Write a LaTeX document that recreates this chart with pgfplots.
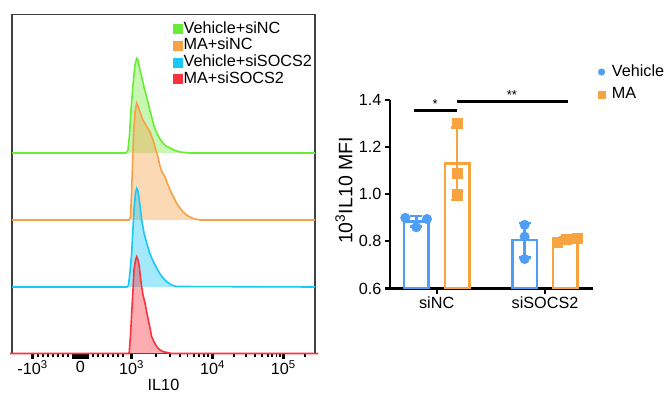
\documentclass[border=0pt]{standalone}
\usepackage{pgfplots}
\pgfplotsset{compat=1.18}
\usepackage{fontspec}
\setmainfont{Liberation Sans}
\definecolor{hgreen}{RGB}{105,236,55}
\definecolor{horange}{RGB}{247,160,70}
\definecolor{hcyan}{RGB}{25,200,245}
\definecolor{hred}{RGB}{250,50,60}
\definecolor{vblue}{RGB}{80,157,245}
\definecolor{maor}{RGB}{247,163,64}
\begin{document}
\begin{tikzpicture}
% ---------------- left: histograms ----------------
\begin{axis}[
  at={(12pt,40.5pt)}, anchor=south west, scale only axis,
  width=303pt, height=338.8pt,
  xmin=12, xmax=315, ymin=0, ymax=338.8,
  clip=false,
  axis line style={line width=1.2pt, black!75},
  xtick={32.5,74,76,78,80.5,83,85,87,131.5,212.5,283.3},
  xticklabels={-10\textsuperscript{3},,,,0,,,,10\textsuperscript{3},10\textsuperscript{4},10\textsuperscript{5}},
  extra x ticks={38,43,48,53,58,63,68,93,98,103,108,113,118,123,155.6,169.7,179.7,187.4,193.7,199,203.7,207.8,233.8,246.3,255.1,262,267.6,272.3,276.4,280.1,304.6},
  extra x tick labels={},
  extra x tick style={major tick length=3pt, tick style={line width=1.8pt, black}},
  ytick=\empty,
  xtick pos=left, tick align=outside,
  major tick length=5pt,
  tick style={line width=3.2pt, black},
  xticklabel style={font=\fontsize{16.2}{18}\selectfont, inner sep=2pt},
  xlabel={IL10}, xlabel style={font=\fontsize{16.2}{18}\selectfont, inner sep=0pt, yshift=6pt},
  legend style={at={(axis cs:173,333)}, anchor=north west, draw=none, fill=none,
    inner sep=0pt, row sep=0pt, font=\fontsize{16.2}{18}\selectfont,
    nodes={inner sep=1pt, text height=11.5pt, text depth=3.2pt}},
  legend cell align=left,
]
\addplot[draw=hgreen, line width=1.6pt, fill=hgreen, fill opacity=0.38, draw opacity=1, forget plot] coordinates {
(12,200.5)(126,200.5)(128,203.5)(129.5,218.5)(131,243.5)(133,268.5)(135,288.5)(136.7,295.2)(138,293.5)(140,283.5)(141.7,276.5)(144,266.5)(146.7,256.5)(149,246.5)(151.7,236.5)(154,227.5)(156.7,220.5)(160,214.5)(163,210.5)(166,207.5)(170,205.5)(175,203)(180,201.5)(190,200.5)(315,200.5)};
\addplot[draw=horange, line width=1.6pt, fill=horange, fill opacity=0.4, draw opacity=1, forget plot] coordinates {
(12,133.5)(129,133.5)(130.5,136.5)(131.5,158.5)(132.5,188.5)(133.5,218.5)(135,241.5)(136.7,250.5)(138,247.5)(140,241.5)(143,233.5)(146.5,227.5)(150,221.5)(153,213.5)(155,206.5)(158,196.5)(160,187.5)(162,181.5)(165,176.5)(168,168.5)(171,161.5)(174,155.5)(177,149.5)(180,145.5)(183,141.5)(188,137.5)(193,135)(200,133.5)(315,133.5)};
\addplot[draw=hcyan, line width=1.6pt, fill=hcyan, fill opacity=0.4, draw opacity=1, forget plot] coordinates {
(12,66.5)(127,66.5)(128.5,68.5)(130,81.5)(131.7,100.5)(133,125.5)(134,143.5)(135.5,160.5)(136.7,165.2)(138,162.5)(140,148.5)(141.7,133.5)(144,120.5)(146.7,110.5)(149,102.5)(151.7,95.5)(154,90.5)(156.7,85.5)(160,79.5)(163,75.5)(167,71.5)(171.7,68.5)(176.7,67)(315,66.5)};
\addplot[draw=hred, line width=1.6pt, fill=hred, fill opacity=0.4, draw opacity=1, forget plot] coordinates {
(10,0)(128.5,0)(129.3,1.8)(130.5,18.5)(131.7,40.5)(133,63.5)(134,83.5)(135.5,93.5)(136.7,96.8)(138,93.5)(139.3,86.8)(140.5,75.5)(141.7,66.8)(143,58.5)(145,50.5)(146.7,41.5)(148.3,33.5)(150,25.5)(151.7,16.8)(154,11.5)(156.7,6.8)(160,3.5)(163.3,1.8)(171.7,0)(318,0)};
\addlegendimage{legend image code/.code={\fill[hgreen] (0pt,-4.5pt) rectangle (9pt,4.5pt);}}
\addlegendentry{Vehicle+siNC}
\addlegendimage{legend image code/.code={\fill[horange] (0pt,-4.5pt) rectangle (9pt,4.5pt);}}
\addlegendentry{MA+siNC}
\addlegendimage{legend image code/.code={\fill[hcyan] (0pt,-4.5pt) rectangle (9pt,4.5pt);}}
\addlegendentry{Vehicle+siSOCS2}
\addlegendimage{legend image code/.code={\fill[hred] (0pt,-4.5pt) rectangle (9pt,4.5pt);}}
\addlegendentry{MA+siSOCS2}
\end{axis}
% ---------------- right: bar chart ----------------
\begin{axis}[
  at={(390pt,105.5pt)}, anchor=south west, scale only axis,
  width=203pt, height=188.5pt,
  xmin=-0.431, xmax=1.443, ymin=0.6, ymax=1.4,
  ytick={0.6,0.8,1.0,1.2,1.4},
  yticklabel style={/pgf/number format/fixed, /pgf/number format/fixed zerofill, /pgf/number format/precision=1, font=\fontsize{16.2}{18}\selectfont},
  /pgf/number format/assume math mode=true,
  xtick={0,1}, xticklabels={siNC,siSOCS2},
  xticklabel style={font=\fontsize{16.2}{18}\selectfont},
  axis x line*=bottom, axis y line*=left,
  axis line style={line width=2.2pt, -},
  tick align=outside, major tick length=5pt,
  tick style={line width=2.2pt, black},
  clip mode=individual,
  ylabel={10\textsuperscript{3}IL10 MFI},
  ylabel style={font=\fontsize{19.5}{22}\selectfont, at={([xshift=-46pt]rel axis cs:0,0.52)}, anchor=center, rotate=0},
  legend style={at={(axis cs:1.49,1.555)}, anchor=north west, draw=none, fill=none,
    inner sep=0pt, row sep=6pt, column sep=6pt, font=\fontsize{16.2}{18}\selectfont,
    nodes={inner sep=1pt, text height=11.5pt, text depth=3.2pt}},
  legend cell align=left,
]
\addlegendimage{only marks, mark=*, mark size=3.3pt, vblue}
\addlegendentry{Vehicle}
\addlegendimage{only marks, mark=square*, mark size=3.3pt, maor}
\addlegendentry{MA}
\addplot[ybar, bar width=0.227, bar shift=0pt, draw=vblue, line width=2.4pt, fill=white, forget plot,
  error bars/.cd, y dir=both, y explicit,
  error bar style={line width=2.4pt, vblue},
  error mark options={rotate=90, mark size=6pt, line width=2.4pt, vblue}]
  coordinates {(-0.188,0.885) +- (0,0.022) (0.812,0.805) +- (0,0.074)};
\addplot[ybar, bar width=0.227, bar shift=0pt, draw=maor, line width=2.4pt, fill=white, forget plot,
  error bars/.cd, y dir=both, y explicit,
  error bar style={line width=2.4pt, maor},
  error mark options={rotate=90, mark size=6pt, line width=2.4pt, maor}]
  coordinates {(0.188,1.13) +- (0,0.154) (1.188,0.807) +- (0,0.011)};
\addplot[only marks, mark=*, mark size=4.8pt, vblue, forget plot] coordinates {
  (-0.29,0.90) (-0.09,0.895) (-0.188,0.86) (0.812,0.87) (0.812,0.82) (0.812,0.725)};
\addplot[only marks, mark=square*, mark size=5pt, maor, forget plot] coordinates {
  (0.188,1.30) (0.188,1.09) (0.188,1.00) (1.108,0.795) (1.2,0.81) (1.293,0.815)};
\draw[line width=2.4pt] (axis cs:-0.21,1.355) -- (axis cs:0.185,1.355);
\draw[line width=2.4pt] (axis cs:0.185,1.393) -- (axis cs:1.212,1.393);
\node[font=\fontsize{13}{14}\selectfont, inner sep=0pt, anchor=south] at (axis cs:-0.015,1.362) {*};
\node[font=\fontsize{13}{14}\selectfont, inner sep=0pt, anchor=south] at (axis cs:0.695,1.400) {**};
\end{axis}
\pgfresetboundingbox
\useasboundingbox (0pt,0pt) rectangle (667pt,394pt);
\end{tikzpicture}
\end{document}
